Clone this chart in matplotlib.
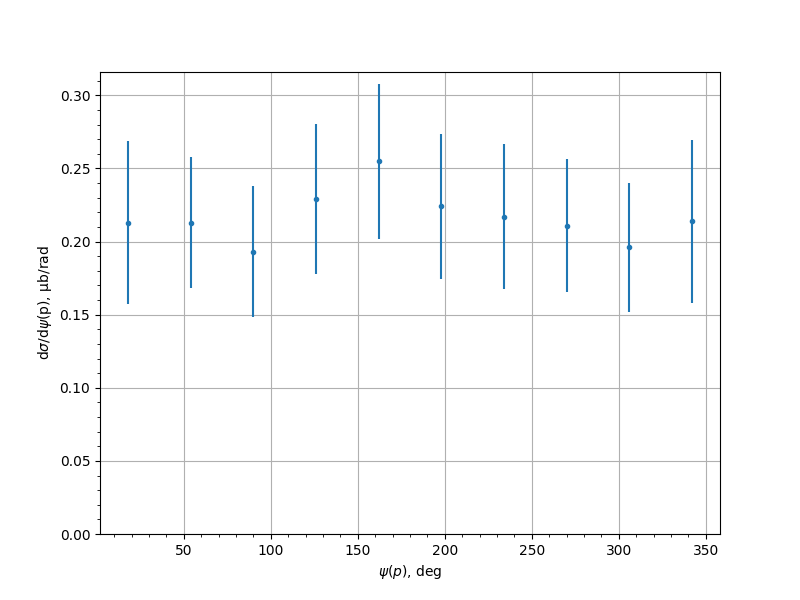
import matplotlib
matplotlib.use('Agg')
import matplotlib.pyplot as plt
import numpy as np

# bin centres of psi(p), deg
psi = [18, 54, 90, 126, 162, 198, 234, 270, 306, 342]
# cross section and its uncertainty, mub/rad
xsec = [0.213, 0.213, 0.193, 0.229, 0.255, 0.224, 0.217, 0.211, 0.196, 0.214]
xsec_err = [0.0556, 0.0447, 0.0448, 0.0513, 0.053, 0.0499, 0.0496, 0.0455, 0.0444, 0.0558]

fig, ax = plt.subplots(figsize=(8, 6), dpi=100)
ax.errorbar(psi, xsec, yerr=xsec_err, fmt='.')

ax.set_ylim(bottom=0)
ax.minorticks_on()
ax.grid(True)
ax.set_xlabel(r'$\psi(p)$, deg')
ax.set_ylabel(r'd$\sigma$/d$\psi$(p), μb/rad')

fig.savefig('out.png', dpi=100)
